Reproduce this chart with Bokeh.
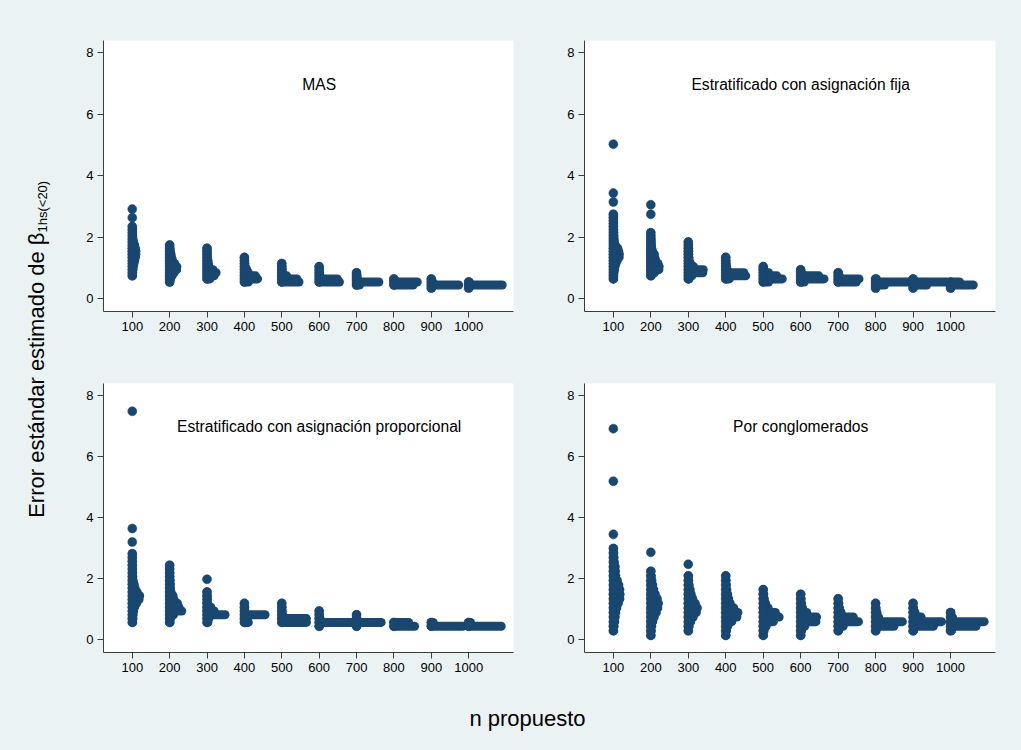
from bokeh.plotting import figure
from bokeh.layouts import row, column
from bokeh.models import Label, FixedTicker, Range1d
from bokeh.embed import file_html
from bokeh.resources import INLINE

# ---------------- data ----------------
N_PROPUESTO = [100, 200, 300, 400, 500, 600, 700, 800, 900, 1000]
Y_TICKS = [0, 2, 4, 6, 8]

# Each group: lowest bin centre, then frequencies of consecutive bins (dot-plot bins)
MAS_BIN = 0.1
MAS_START = [0.75, 0.55, 0.65, 0.55, 0.55, 0.55, 0.45, 0.45, 0.35, 0.35]
MAS_COUNTS = [
    [3, 5, 8, 12, 18, 25, 32, 36, 36, 32, 25, 15, 8, 5, 3, 2, 1],
    [3, 10, 25, 45, 70, 72, 50, 30, 20, 15, 8, 4, 2],
    [30, 70, 90, 60, 20, 15, 10, 5, 3, 2, 1],
    [40, 130, 110, 40, 25, 10, 5, 3, 1],
    [170, 150, 50, 8, 5, 3, 1],
    [200, 180, 10, 6, 3, 1],
    [30, 220, 12, 6, 2],
    [190, 230, 4],
    [5, 270, 15, 2],
    [5, 330, 8],
]
MAS_OUT_N = [100, 100]
MAS_OUT_Y = [2.64, 2.92]

FIJA_BIN = 0.1
FIJA_START = [0.65, 0.75, 0.65, 0.65, 0.55, 0.55, 0.55, 0.35, 0.35, 0.35]
FIJA_COUNTS = [
    [3, 5, 8, 15, 20, 30, 45, 65, 67, 60, 50, 25, 12, 10, 8, 6, 5, 4, 3, 2, 2, 1],
    [5, 40, 90, 93, 80, 55, 45, 40, 20, 12, 8, 6, 4, 2, 1],
    [10, 40, 160, 165, 60, 25, 12, 8, 6, 5, 4, 3, 1],
    [40, 220, 200, 20, 10, 5, 3, 1],
    [60, 210, 150, 60, 8, 2],
    [40, 257, 200, 10, 1],
    [200, 230, 15, 3],
    [3, 100, 370, 10],
    [3, 150, 370, 3],
    [5, 250, 100],
]
FIJA_OUT_N = [100, 100, 100, 200, 200]
FIJA_OUT_Y = [3.15, 3.44, 5.03, 2.75, 3.06]

PROP_BIN = 0.125
PROP_START = [0.575, 0.575, 0.575, 0.575, 0.575, 0.45, 0.45, 0.45, 0.45, 0.45]
PROP_COUNTS = [
    [5, 8, 10, 15, 25, 45, 70, 76, 50, 30, 20, 10, 6, 4, 3, 2, 2, 1, 1],
    [5, 10, 40, 123, 95, 80, 45, 35, 15, 10, 8, 6, 4, 3, 2, 1],
    [10, 20, 183, 73, 40, 8, 5, 3, 2],
    [40, 30, 210, 5, 3, 1],
    [250, 250, 10, 5, 3, 1],
    [5, 340, 10, 5, 2],
    [5, 250, 5, 2],
    [210, 150],
    [320, 20],
    [330, 20],
]
PROP_OUT_N = [100, 100, 100, 300]
PROP_OUT_Y = [3.21, 3.65, 7.49, 1.99]

CONG_BIN = 0.15
CONG_START = [0.3, 0.15, 0.3, 0.15, 0.15, 0.15, 0.3, 0.3, 0.3, 0.3]
CONG_COUNTS = [
    [3, 8, 15, 20, 25, 35, 50, 65, 67, 65, 55, 40, 25, 22, 20, 12, 8, 5, 2],
    [3, 6, 10, 20, 35, 55, 70, 76, 65, 45, 30, 20, 12, 6, 2],
    [3, 10, 25, 50, 80, 90, 70, 45, 30, 20, 10, 5, 2],
    [3, 8, 20, 60, 110, 120, 80, 45, 30, 20, 12, 8, 4, 2],
    [3, 10, 30, 100, 157, 120, 50, 25, 12, 6, 2],
    [3, 10, 40, 150, 157, 60, 20, 10, 5, 2],
    [5, 50, 200, 150, 30, 15, 8, 2],
    [5, 180, 263, 30, 15, 5, 1],
    [5, 200, 280, 80, 20, 5, 1],
    [10, 250, 330, 20, 3],
]
CONG_OUT_N = [100, 100, 100, 200, 300]
CONG_OUT_Y = [3.46, 5.20, 6.92, 2.87, 2.48]

TITLES = ["MAS", "Estratificado con asignación fija",
          "Estratificado con asignación proporcional", "Por conglomerados"]

# ---------------- style ----------------
BG = "#EAF2F3"
NAVY = "#1A476F"
FONT = "Liberation Sans"
DOT = 9


def make_panel(width, height, bl, br, bt, bb, starts, counts, bw, out_n, out_y, title, ty):
    p = figure(width=width, height=height, toolbar_location=None, output_backend="svg",
               x_range=Range1d(23, 1120), y_range=Range1d(-0.41, 8.40),
               min_border_left=bl, min_border_right=br, min_border_top=bt, min_border_bottom=bb)
    p.background_fill_color = "white"
    p.border_fill_color = BG
    p.outline_line_color = None
    p.grid.visible = False
    for ax, ticks in ((p.xaxis, N_PROPUESTO), (p.yaxis, Y_TICKS)):
        ax.ticker = FixedTicker(ticks=ticks)
        ax.minor_tick_line_color = None
        ax.major_tick_in = 0
        ax.major_tick_out = 6
        ax.axis_line_color = "#3c3c3c"
        ax.major_tick_line_color = "#3c3c3c"
        ax.major_label_text_font = FONT
        ax.major_label_text_font_size = "13px"
        ax.major_label_text_color = "black"
        ax.major_label_standoff = 4
    p.yaxis.major_label_orientation = "horizontal"

    step = N_PROPUESTO[1] - N_PROPUESTO[0]
    maxc = max(max(c) for c in counts)
    k = 0.9 * step / maxc
    x0, x1, ys = [], [], []
    for n, s, cs in zip(N_PROPUESTO, starts, counts):
        for i, c in enumerate(cs):
            if c <= 0:
                continue
            x0.append(n)
            x1.append(n + (c - 1) * k)
            ys.append(s + i * bw)
    p.segment(x0=x0, y0=ys, x1=x1, y1=ys, line_width=DOT, line_cap="round", line_color=NAVY)
    p.scatter(x=x0, y=ys, size=DOT, fill_color=NAVY, line_color=NAVY, line_width=0.5)
    p.scatter(x=out_n, y=out_y, size=DOT, fill_color=NAVY, line_color=NAVY, line_width=0.5)

    p.add_layout(Label(x=600, y=ty, text=title, text_align="center", text_baseline="middle",
                       text_font=FONT, text_font_size="15.6px", text_color="black"))
    return p


tl = make_panel(488, 350, 43, 35, 40, 39, MAS_START, MAS_COUNTS, MAS_BIN,
                MAS_OUT_N, MAS_OUT_Y, TITLES[0], 6.96)
tr = make_panel(460, 350, 36, 13, 40, 39, FIJA_START, FIJA_COUNTS, FIJA_BIN,
                FIJA_OUT_N, FIJA_OUT_Y, TITLES[1], 6.96)
bl = make_panel(488, 340, 43, 35, 33, 38, PROP_START, PROP_COUNTS, PROP_BIN,
                PROP_OUT_N, PROP_OUT_Y, TITLES[2], 6.99)
br = make_panel(460, 340, 36, 13, 33, 38, CONG_START, CONG_COUNTS, CONG_BIN,
                CONG_OUT_N, CONG_OUT_Y, TITLES[3], 6.99)


def blank(w, h):
    f = figure(width=w, height=h, toolbar_location=None, output_backend="svg",
               x_range=Range1d(0, w), y_range=Range1d(0, h), x_axis_type=None, y_axis_type=None,
               min_border=0)
    f.background_fill_color = BG
    f.border_fill_color = BG
    f.outline_line_color = None
    f.grid.visible = False
    return f


ylab = blank(60, 690)
ylab.add_layout(Label(x=36, y=458, text="Error estándar estimado de β", angle=90, angle_units="deg",
                      text_align="right", text_baseline="middle", text_font=FONT,
                      text_font_size="22px", text_color="black"))
ylab.add_layout(Label(x=42, y=458, text="1hs(<20)", angle=90, angle_units="deg",
                      text_align="left", text_baseline="middle", text_font=FONT,
                      text_font_size="13px", text_color="black"))

xlab = blank(1008, 56)
xlab.add_layout(Label(x=527, y=28, text="n propuesto", text_align="center", text_baseline="middle",
                      text_font=FONT, text_font_size="22px", text_color="black"))

grid = column(row(tl, tr, spacing=0), row(bl, br, spacing=0), spacing=0)
layout = column(row(ylab, grid, spacing=0), xlab, spacing=0)

html = file_html(layout, INLINE, title="dotplot")
html = html.replace("<head>", "<head><style>html, body { background: %s; }</style>" % BG, 1)
open("out.html", "w").write(html)
